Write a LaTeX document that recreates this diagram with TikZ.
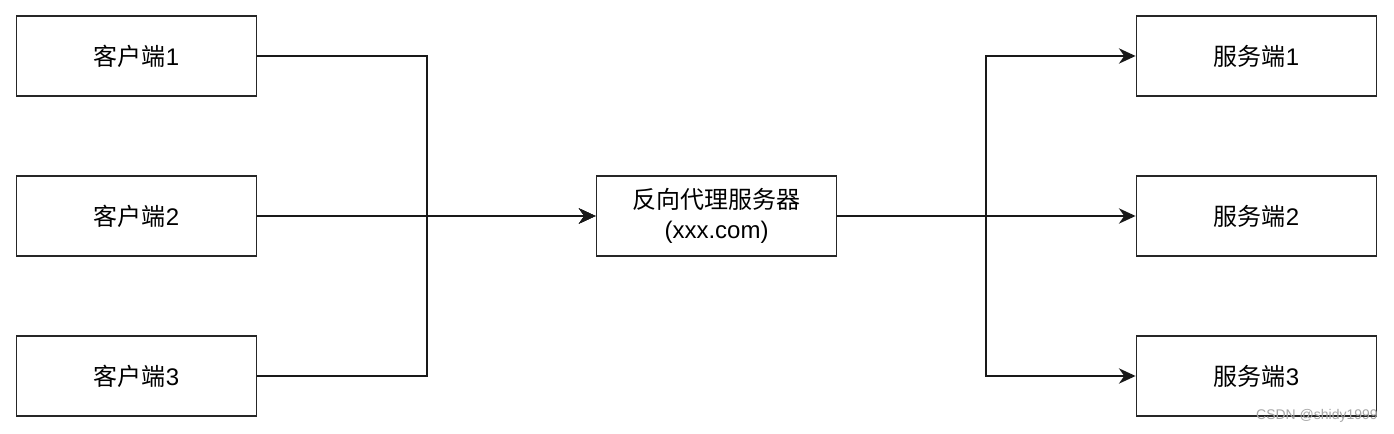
\documentclass[tikz,border=0pt]{standalone}
\usepackage{fontspec}
\setmainfont{Liberation Sans}
\newfontfamily\cjk{Noto Sans CJK SC}
\usetikzlibrary{arrows.meta}
\begin{document}
\begin{tikzpicture}[x=0.75pt,y=-0.75pt,
  box/.style={draw=black!85, line width=1.4pt, minimum width=240*0.75pt, minimum height=80*0.75pt, inner sep=0pt, font=\fontsize{18}{22.5}\selectfont, align=center},
  conn/.style={draw=black!90, line width=1.4pt},
  arr/.style={conn, -{Stealth[length=12.5pt,width=11.5pt,inset=4pt]}}]
\useasboundingbox (0,0) rectangle (1394,434);
\fill[white] (0,0) rectangle (1394,434);
\node[box] (c1) at (136.5,56) {{\cjk 客户端}1};
\node[box] (c2) at (136.5,216) {{\cjk 客户端}2};
\node[box] (c3) at (136.5,376) {{\cjk 客户端}3};
\node[box] (p) at (716.5,216) {{\cjk 反向代理服务器}\\(xxx.com)};
\node[box] (s1) at (1256.5,56) {{\cjk 服务端}1};
\node[box] (s2) at (1256.5,216) {{\cjk 服务端}2};
\node[box] (s3) at (1256.5,376) {{\cjk 服务端}3};
\coordinate (jl) at (427,216);
\coordinate (jr) at (986,216);
\draw[arr] (c1.east) -| (jl) -- (p.west);
\draw[arr] (c3.east) -| (jl) -- (p.west);
\draw[arr] (c2.east) -- (p.west);
\draw[arr] (p.east) -- (jr) |- (s1.west);
\draw[arr] (p.east) -- (s2.west);
\draw[arr] (p.east) -- (jr) |- (s3.west);
\node[text=black!35, font=\fontsize{10.5}{12}\selectfont, anchor=east, inner sep=0pt] (wm) at (1378,416) {CSDN @shidy1999};
\end{tikzpicture}
\end{document}
